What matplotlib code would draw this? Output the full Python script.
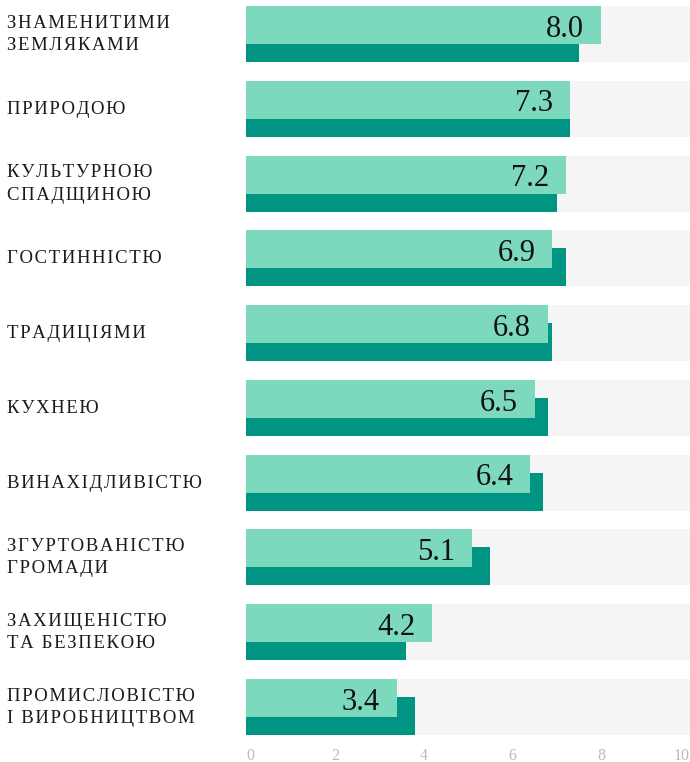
import matplotlib.pyplot as plt
from matplotlib.transforms import blended_transform_factory

categories = [
    "ЗНАМЕНИТИМИ\nЗЕМЛЯКАМИ",
    "ПРИРОДОЮ",
    "КУЛЬТУРНОЮ\nСПАДЩИНОЮ",
    "ГОСТИННІСТЮ",
    "ТРАДИЦІЯМИ",
    "КУХНЕЮ",
    "ВИНАХІДЛИВІСТЮ",
    "ЗГУРТОВАНІСТЮ\nГРОМАДИ",
    "ЗАХИЩЕНІСТЮ\nТА БЕЗПЕКОЮ",
    "ПРОМИСЛОВІСТЮ\nІ ВИРОБНИЦТВОМ",
]
main_values = [8.0, 7.3, 7.2, 6.9, 6.8, 6.5, 6.4, 5.1, 4.2, 3.4]
second_values = [7.5, 7.3, 7.0, 7.2, 6.9, 6.8, 6.7, 5.5, 3.6, 3.8]
x_max = 10
x_ticks = [0, 2, 4, 6, 8, 10]

light = "#7dd9be"
dark = "#009482"
bg = "#f5f5f5"
serif = ["Liberation Serif", "DejaVu Serif"]


def spaced(s, sep="\u200a"):
    return "\n".join(sep.join(line) for line in s.split("\n"))


fig = plt.figure(figsize=(6.9, 7.62), dpi=100)
ax = fig.add_axes([246 / 690, 1 - 735 / 762, 444 / 690, 729 / 762])

n = len(categories)
ys = list(range(n))
ax.barh(ys, [x_max] * n, height=0.75, color=bg, zorder=0)
ax.barh([y + 0.1205 for y in ys], second_values, height=0.509, color=dark, zorder=1)
ax.barh([y - 0.1205 for y in ys], main_values, height=0.509, color=light, zorder=2)

for y, v in zip(ys, main_values):
    ax.text(v - 0.38, y + 0.035, f"{v:.1f}", ha="right", va="baseline",
            fontsize=22, family=serif, color="#111111", zorder=3)

trans = blended_transform_factory(fig.transFigure, ax.transData)
for y, c in zip(ys, categories):
    ax.text(7 / 690, y + 0.005, spaced(c), transform=trans, ha="left", va="center",
            fontsize=13.5, family=serif, color="#1a1a1a", linespacing=1.4)

ax.set_xlim(0, x_max)
ax.set_ylim(n - 0.625, -0.375)
ax.set_yticks([])
ax.set_xticks(x_ticks)
ax.set_xticklabels([str(t) for t in x_ticks], family=serif, fontsize=11.5, color="#bbbbbb")
labels = ax.get_xticklabels()
labels[0].set_ha("left")
labels[-1].set_ha("right")
ax.tick_params(axis="x", length=0, pad=9)
for s in ax.spines.values():
    s.set_visible(False)

fig.savefig("out.png", dpi=100)
